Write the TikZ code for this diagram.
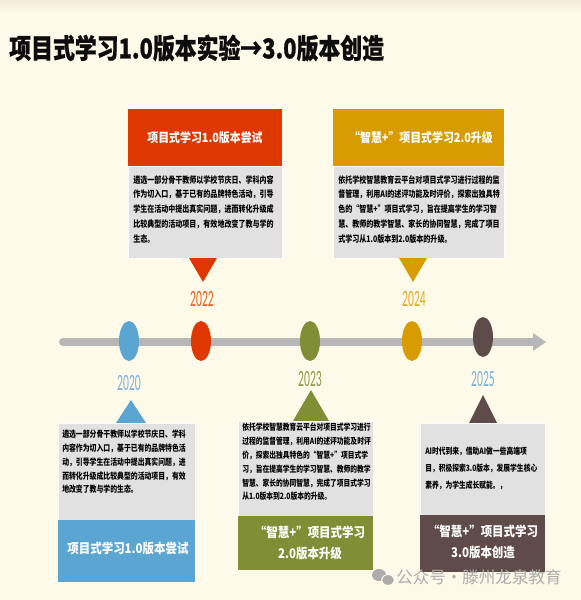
\documentclass[tikz,border=0pt]{standalone}
\usepackage{fontspec}
\usetikzlibrary{shapes.geometric}
\newfontfamily\titlefnt{Noto Sans CJK SC}[FakeStretch=0.8, FakeBold=0.8]
\newfontfamily\hdrfnt{Noto Sans CJK SC}[FakeStretch=0.86]
\newfontfamily\bodyfnt{Noto Sans CJK SC}[FakeStretch=0.78]
\newfontfamily\wmfnt{Noto Sans CJK SC}
\newfontfamily\yrfnt{Carlito}[FakeStretch=0.5]
\definecolor{bgcream}{RGB}{254,250,233}
\definecolor{bgtop}{RGB}{244,234,219}
\definecolor{cblue}{RGB}{90,165,210}
\definecolor{cred}{RGB}{222,56,0}
\definecolor{colive}{RGB}{128,143,54}
\definecolor{cgold}{RGB}{217,156,0}
\definecolor{cbrown}{RGB}{95,76,74}
\definecolor{cgray}{RGB}{225,225,225}
\definecolor{tline}{RGB}{183,183,183}
\definecolor{yblue}{RGB}{125,178,215}
\definecolor{yred}{RGB}{236,96,30}
\definecolor{yolive}{RGB}{140,156,72}
\definecolor{ygold}{RGB}{226,168,40}
\definecolor{wmgray}{RGB}{172,172,172}
\tikzset{
  hdr/.style={font=\hdrfnt\bfseries\fontsize{9.5}{13}\selectfont, text=white, inner sep=0pt, align=center},
  bhdr/.style={font=\hdrfnt\bfseries\fontsize{10}{15.5}\selectfont, text=white, inner sep=0pt, align=center},
  bodytext/.style={inner sep=0pt, anchor=north west, align=left, text=black},
  yr/.style={font=\yrfnt\fontsize{17.5}{18}\selectfont, inner sep=0pt},
  dot/.style={ellipse, minimum width=15pt, minimum height=30pt, inner sep=0pt},
  bodybox/.style={fill=cgray, draw=white!90!cgray, line width=0.5pt},
}
\begin{document}
\begin{tikzpicture}[x=0.75pt,y=-0.75pt]
\useasboundingbox (0,0) rectangle (581,600);
\fill[bgcream] (0,0) rectangle (581,600);
\shade[top color=bgtop, bottom color=bgcream] (0,0) rectangle (581,13);

% title
\node[font=\titlefnt\bfseries\fontsize{20.5}{24}\selectfont, inner sep=0pt, anchor=west, text=black!95] (title) at (9,48) {项目式学习1.0版本实验→3.0版本创造};

% timeline
\coordinate (tstart) at (63,342);
\coordinate (tend) at (533,342);
\draw[tline, line width=6pt, line cap=round] (tstart) -- (tend);
\fill[tline] (533,333) -- (546,342) -- (533,351) -- cycle;

\node[dot, fill=cblue] (d2020) at (129,341) {};
\node[dot, fill=cred] (d2022) at (201,341) {};
\node[dot, fill=colive] (d2023) at (310,341) {};
\node[dot, fill=cgold] (d2024) at (412,341) {};
\node[dot, fill=cbrown] (d2025) at (483,337) {};

\node[yr, text=yblue] (y2020) at (129,383) {2020};
\node[yr, text=yred] (y2022) at (202,299) {2022};
\node[yr, text=yolive] (y2023) at (310,379) {2023};
\node[yr, text=ygold] (y2024) at (414,299) {2024};
\node[yr, text=yblue] (y2025) at (483,379) {2025};

% top-left box (2022)
\fill[cred] (128,109) rectangle (282,166);
\draw[bodybox] (128,166) rectangle (282,258);
\fill[cred] (189,258) -- (217,258) -- (203,282) -- cycle;
\node[hdr] (h2022) at (205,138) {项目式学习1.0版本尝试};
\node[bodytext, font=\bodyfnt\bfseries\fontsize{6.75}{11.1}\selectfont] (b2022) at (133,175) {遴选一部分骨干教师以学校节庆日、学科内容\\作为切入口，基于已有的品牌特色活动，引导\\学生在活动中提出真实问题，进而转化升级成\\比较典型的活动项目，有效地改变了教与学的\\生态。};

% top-right box (2024)
\fill[cgold] (333,109) rectangle (504,166);
\draw[bodybox] (333,166) rectangle (504,258);
\fill[cgold] (399,258) -- (427,258) -- (413,282) -- cycle;
\node[hdr] (h2024) at (421,138) {“智慧+”项目式学习2.0升级};
\node[bodytext, font=\bodyfnt\bfseries\fontsize{6.75}{11.1}\selectfont] (b2024) at (338,175) {依托学校智慧教育云平台对项目式学习进行过程的监\\督管理，利用AI的述评功能及时评价，探索出独具特\\色的“智慧+”项目式学习，旨在提高学生的学习智\\慧、教师的教学智慧、家长的协同智慧，完成了项目\\式学习从1.0版本到2.0版本的升级。};

% bottom-left box (2020)
\fill[cblue] (131,400) -- (146,423) -- (116,423) -- cycle;
\draw[bodybox] (58,423) rectangle (195,520);
\fill[cblue] (58,520) rectangle (195,582);
\node[bodytext, font=\bodyfnt\bfseries\fontsize{6.6}{10.3}\selectfont] (b2020) at (62,430) {遴选一部分骨干教师以学校节庆日、学科\\内容作为切入口，基于已有的品牌特色活\\动，引导学生在活动中提出真实问题，进\\而转化升级成比较典型的活动项目，有效\\地改变了教与学的生态。};
\node[bhdr] (h2020) at (128,548) {项目式学习1.0版本尝试};

% bottom-middle box (2023)
\fill[colive] (311,390) -- (329,421) -- (293,421) -- cycle;
\draw[bodybox] (238,421) rectangle (373,516);
\fill[colive] (238,516) rectangle (373,570);
\node[bodytext, font=\bodyfnt\bfseries\fontsize{6.5}{10.35}\selectfont] (b2023) at (242,423) {依托学校智慧教育云平台对项目式学习进行\\过程的监督管理，利用AI的述评功能及时评\\价，探索出独具特色的“智慧+”项目式学\\习，旨在提高学生的学习智慧、教师的教学\\智慧、家长的协同智慧，完成了项目式学习\\从1.0版本到2.0版本的升级。};
\node[bhdr] (h2023) at (310,543) {“智慧+”项目式学习\\2.0版本升级};

% bottom-right box (2025)
\fill[cbrown] (483,395) -- (497,423) -- (469,423) -- cycle;
\draw[bodybox] (420,423) rectangle (545,515);
\fill[cbrown] (420,515) rectangle (545,572);
\node[bodytext, font=\bodyfnt\bfseries\fontsize{6.5}{12.5}\selectfont] (b2025) at (425,447) {AI时代到来，借助AI做一些高端项\\目，积极探索3.0版本，发展学生核心\\素养，为学生成长赋能。，};
\node[bhdr] (h2025) at (483,542) {“智慧+”项目式学习\\3.0版本创造};

% watermark
\fill[wmgray] (379,575) ellipse (7 and 6);
\fill[bgcream] (388,580) ellipse (6.8 and 5.8);
\fill[wmgray] (388,580) ellipse (5.8 and 4.8);
\node[font=\wmfnt\fontsize{12.4}{14}\selectfont, text=wmgray, inner sep=0pt, anchor=west] (wm) at (396,577) {公众号·滕州龙泉教育};
\end{tikzpicture}
\end{document}
